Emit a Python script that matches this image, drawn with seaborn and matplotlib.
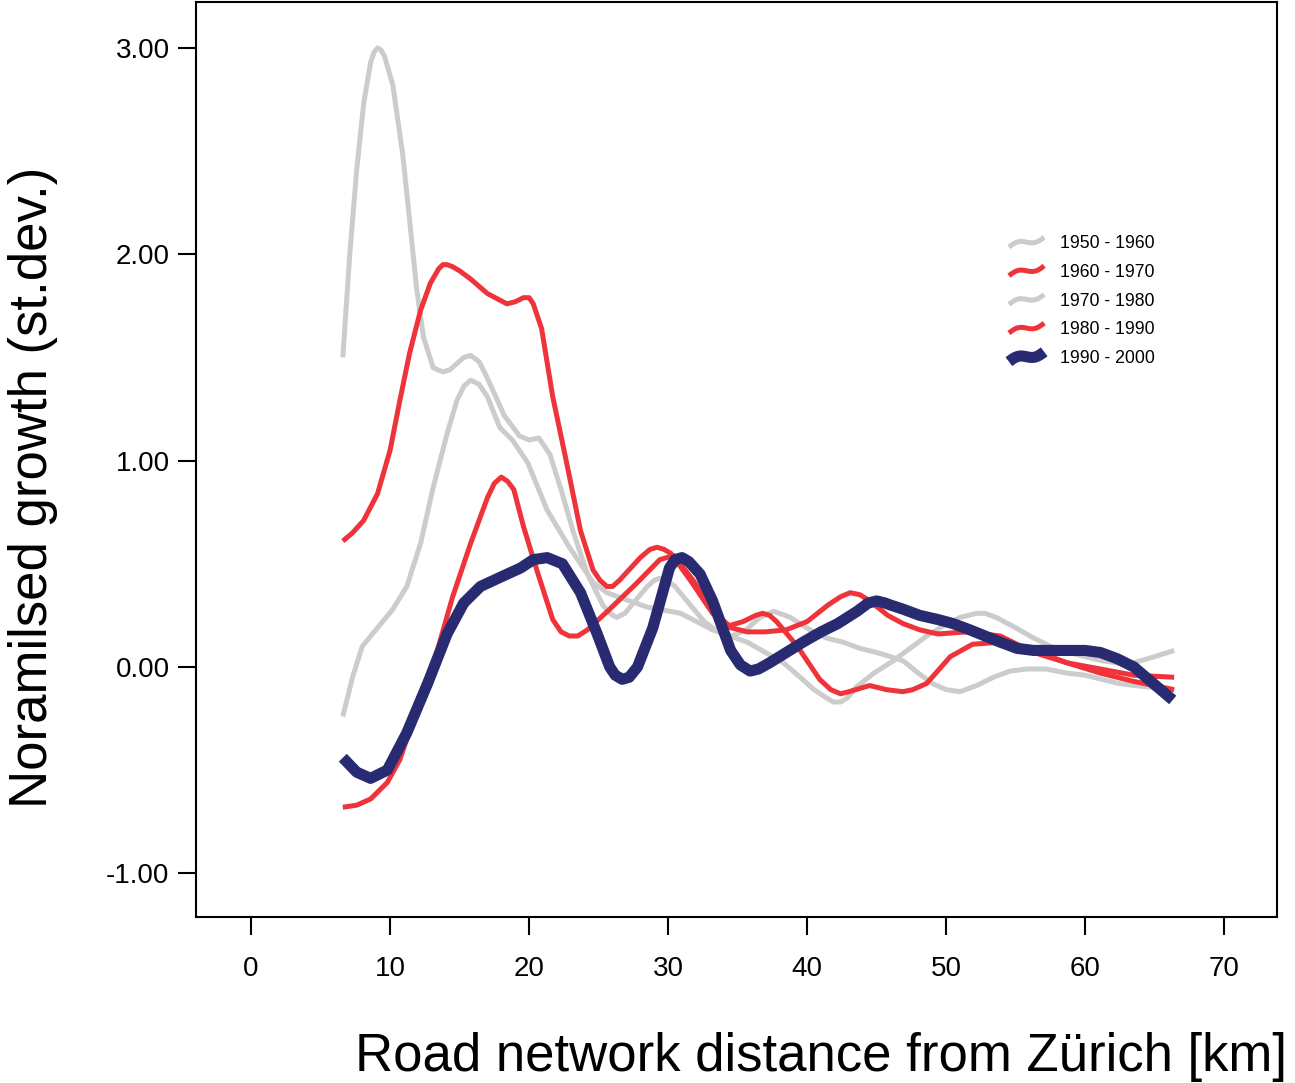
import numpy as np
import pandas as pd
import matplotlib
matplotlib.use("Agg")
import matplotlib.pyplot as plt
import seaborn as sns
from matplotlib.lines import Line2D
from matplotlib.legend_handler import HandlerBase

# Values (km, normalised growth)
periods = ['1950 - 1960', '1960 - 1970', '1970 - 1980', '1980 - 1990', '1990 - 2000']

x_5060 = [6.6, 7.1, 7.6, 8.1, 8.6, 8.85, 9.1, 9.35, 9.6, 10.2, 10.9, 11.4, 11.9, 12.4, 13.1, 13.8,
          14.3, 14.8, 15.3, 15.8, 16.4, 17.0, 18.2, 19.3, 20.0, 20.7, 21.5, 22.3, 23.2, 24.2,
          25.3, 25.8, 26.3, 26.9, 27.5, 28.5, 29.0, 29.4, 29.9, 30.5, 31.6, 32.6, 33.6, 34.6,
          35.6, 36.6, 37.6, 38.8, 40.2, 41.4, 42.6, 43.8, 45.0, 46.0, 46.9, 48.0, 49.0, 50.0,
          51.0, 52.2, 53.4, 54.6, 55.8, 57.2, 58.7, 60.0, 61.2, 62.4, 63.6, 65.0, 66.4]
y_5060 = [1.50, 2.00, 2.41, 2.73, 2.93, 2.98, 3.00, 2.99, 2.96, 2.82, 2.49, 2.17, 1.84, 1.60, 1.45, 1.43,
          1.44, 1.47, 1.50, 1.51, 1.48, 1.40, 1.22, 1.12, 1.10, 1.11, 1.03, 0.86, 0.65, 0.45,
          0.30, 0.26, 0.24, 0.26, 0.31, 0.39, 0.42, 0.43, 0.42, 0.39, 0.30, 0.22, 0.17, 0.15,
          0.18, 0.24, 0.27, 0.24, 0.18, 0.14, 0.12, 0.09, 0.07, 0.05, 0.03, -0.03, -0.08, -0.11,
          -0.12, -0.09, -0.05, -0.02, -0.01, -0.01, -0.03, -0.04, -0.06, -0.08, -0.09, -0.10, -0.11]

x_6070 = [6.6, 7.3, 8.1, 9.1, 10.0, 10.7, 11.4, 12.2, 12.9, 13.5, 13.8, 14.1, 14.5, 15.0, 15.8,
          17.0, 18.4, 19.0, 19.6, 20.0, 20.3, 20.9, 21.7, 22.7, 23.7, 24.6, 25.1, 25.6, 26.0,
          26.5, 28.0, 28.7, 29.2, 29.7, 30.2, 31.6, 33.2, 34.5, 35.7, 37.0, 38.5, 40.0, 41.5,
          42.4, 43.1, 43.8, 44.5, 45.8, 46.9, 48.1, 49.4, 51.5, 53.9, 56.3, 58.7, 61.1, 63.5,
          66.4]
y_6070 = [0.61, 0.65, 0.71, 0.84, 1.05, 1.29, 1.52, 1.73, 1.86, 1.93, 1.95, 1.95, 1.94, 1.92, 1.88,
          1.81, 1.76, 1.77, 1.79, 1.79, 1.76, 1.64, 1.31, 0.99, 0.66, 0.47, 0.42, 0.39, 0.39,
          0.42, 0.53, 0.57, 0.58, 0.57, 0.55, 0.42, 0.26, 0.19, 0.17, 0.17, 0.18, 0.22, 0.30,
          0.34, 0.36, 0.35, 0.32, 0.25, 0.21, 0.18, 0.16, 0.17, 0.15, 0.07, 0.02, -0.03, -0.07,
          -0.11]

x_7080 = [6.6, 7.3, 8.0, 9.1, 10.2, 11.2, 12.2, 13.1, 14.1, 14.8, 15.3, 15.8, 16.4, 17.0, 17.9,
          18.8, 19.9, 21.3, 22.9, 24.6, 25.6, 26.8, 28.5, 30.9, 33.2, 35.7, 37.0, 38.3, 39.5,
          40.5, 41.4, 41.9, 42.4, 42.9, 43.5, 44.8, 46.2, 47.4, 48.6, 49.8, 51.0, 51.6, 52.2,
          52.8, 53.6, 55.0, 56.3, 57.5, 58.8, 60.0, 61.2, 62.3, 63.5, 65.0, 66.4]
y_7080 = [-0.24, -0.05, 0.10, 0.19, 0.28, 0.39, 0.60, 0.87, 1.13, 1.29, 1.36, 1.39, 1.37, 1.31, 1.16,
          1.10, 0.99, 0.76, 0.58, 0.41, 0.36, 0.33, 0.29, 0.26, 0.18, 0.12, 0.07, 0.02, -0.05,
          -0.11, -0.15, -0.17, -0.17, -0.15, -0.10, -0.03, 0.03, 0.09, 0.15, 0.20, 0.24, 0.25, 0.26,
          0.26, 0.24, 0.19, 0.14, 0.10, 0.07, 0.05, 0.03, 0.02, 0.02, 0.05, 0.08]

x_8090 = [6.6, 7.6, 8.6, 9.8, 10.7, 11.3, 11.9, 12.7, 13.4, 14.5, 15.8, 17.0, 17.5, 18.0, 18.45,
          18.9, 19.6, 20.6, 21.7, 22.3, 22.9, 23.5, 24.2, 25.8, 27.8, 29.4, 30.4, 31.8, 33.2,
          34.4, 35.4, 36.3, 36.8, 37.3, 37.8, 39.3, 40.9, 41.7, 42.4, 43.0, 43.5, 44.5, 45.7,
          46.9, 47.6, 48.6, 50.3, 51.9, 53.9, 56.3, 58.7, 61.1, 63.5, 66.4]
y_8090 = [-0.68, -0.67, -0.64, -0.56, -0.45, -0.33, -0.21, -0.05, 0.08, 0.34, 0.60, 0.82, 0.89, 0.92, 0.90,
          0.86, 0.68, 0.46, 0.23, 0.17, 0.15, 0.15, 0.18, 0.28, 0.41, 0.52, 0.54, 0.42, 0.27,
          0.20, 0.22, 0.25, 0.26, 0.25, 0.22, 0.10, -0.06, -0.11, -0.13, -0.12, -0.11, -0.09, -0.11,
          -0.12, -0.11, -0.08, 0.05, 0.11, 0.12, 0.08, 0.02, -0.01, -0.04, -0.05]

x_9000 = [6.6, 7.6, 8.6, 9.8, 11.2, 12.7, 14.1, 15.3, 16.5, 18.1, 19.4, 20.3, 21.3, 22.4, 23.7,
          24.9, 25.8, 26.2, 26.7, 27.2, 27.8, 28.9, 30.1, 30.5, 31.0, 31.5, 32.3, 33.2, 34.5,
          35.2, 35.9, 36.5, 37.3, 38.5, 39.7, 41.0, 42.2, 43.6, 44.4, 45.0, 45.6, 46.0, 46.9,
          48.1, 49.4, 50.5, 51.7, 52.8, 53.9, 55.1, 56.3, 57.5, 58.7, 60.0, 61.1, 62.3, 63.5,
          64.9, 66.3]
y_9000 = [-0.44, -0.51, -0.54, -0.50, -0.32, -0.08, 0.16, 0.31, 0.39, 0.44, 0.48, 0.52, 0.53, 0.50, 0.36,
          0.16, 0.00, -0.04, -0.06, -0.05, 0.00, 0.19, 0.48, 0.52, 0.53, 0.51, 0.45, 0.32, 0.08,
          0.01, -0.02, -0.01, 0.02, 0.07, 0.12, 0.17, 0.21, 0.27, 0.31, 0.32, 0.31, 0.30, 0.28,
          0.25, 0.23, 0.21, 0.18, 0.15, 0.12, 0.09, 0.08, 0.08, 0.08, 0.08, 0.07, 0.04, 0.00,
          -0.08, -0.16]

series_x = [x_5060, x_6070, x_7080, x_8090, x_9000]
series_y = [y_5060, y_6070, y_7080, y_8090, y_9000]

GRAY = '#cccccc'
RED = '#ef333b'
NAVY = '#292b72'
colors = [GRAY, RED, GRAY, RED, NAVY]
widths = [3.6, 3.6, 3.6, 3.6, 8.0]
draw_order = [0, 2, 1, 3, 4]

sns.set_theme(style="ticks")
plt.rcParams['font.family'] = ['Liberation Sans', 'DejaVu Sans']
plt.rcParams['text.color'] = 'black'
plt.rcParams['axes.labelcolor'] = 'black'
plt.rcParams['xtick.color'] = 'black'
plt.rcParams['ytick.color'] = 'black'


class WavyHandler(HandlerBase):
    """Legend handle drawn as a small wave, like in the original."""
    def create_artists(self, legend, orig_handle, xdescent, ydescent,
                       width, height, fontsize, trans):
        t = np.linspace(0, 1, 40)
        xs = -xdescent + width * t
        ys = -ydescent + height * (0.5 + 0.8 * (t - 0.5) + 0.22 * np.sin(2 * np.pi * t))
        line = Line2D(xs, ys, color=orig_handle.get_color(),
                      linewidth=orig_handle.get_linewidth(),
                      solid_capstyle='butt', transform=trans)
        return [line]


fig = plt.figure(figsize=(12.95, 10.83), dpi=100)
ax = fig.add_axes([196 / 1295, 1 - 917 / 1083, (1277 - 196) / 1295, (917 - 2) / 1083])

for i in draw_order:
    df = pd.DataFrame({'distance': series_x[i], 'growth': series_y[i]})
    sns.lineplot(data=df, x='distance', y='growth', ax=ax, color=colors[i],
                 linewidth=widths[i], sort=False, estimator=None,
                 solid_capstyle='butt', solid_joinstyle='round')

ax.set_xlim(-3.96, 73.8)
ax.set_ylim(-1.212, 3.223)
ax.set_xticks(range(0, 71, 10))
ax.set_yticks([-1, 0, 1, 2, 3])
ax.set_yticklabels([f"{v:.2f}" for v in [-1, 0, 1, 2, 3]])
ax.set_xlabel('')
ax.set_ylabel('')
ax.tick_params(axis='both', direction='out', length=13, width=1.5, labelsize=20,
               colors='black')
ax.tick_params(axis='x', pad=15)
ax.tick_params(axis='y', pad=6)
for sp in ax.spines.values():
    sp.set_visible(True)
    sp.set_linewidth(1.5)
    sp.set_color('black')

handles = [Line2D([], [], color=colors[i], linewidth=widths[i]) for i in range(5)]
ax.legend(handles, periods, handler_map={Line2D: WavyHandler()},
          loc='upper left', bbox_to_anchor=(0.752, 0.745), frameon=False,
          fontsize=12.7, handlelength=2.0, handletextpad=0.9, labelspacing=0.66,
          borderpad=0, borderaxespad=0)

fig.text(33 / 1295, 1 - 487 / 1083, 'Noramilsed growth (st.dev.)', rotation=90,
         ha='center', va='center', fontsize=38)
fig.text(821 / 1295, 1 - 1071 / 1083, 'Road network distance from Zürich [km]',
         ha='center', va='baseline', fontsize=38)

fig.savefig('out.png', dpi=100)
